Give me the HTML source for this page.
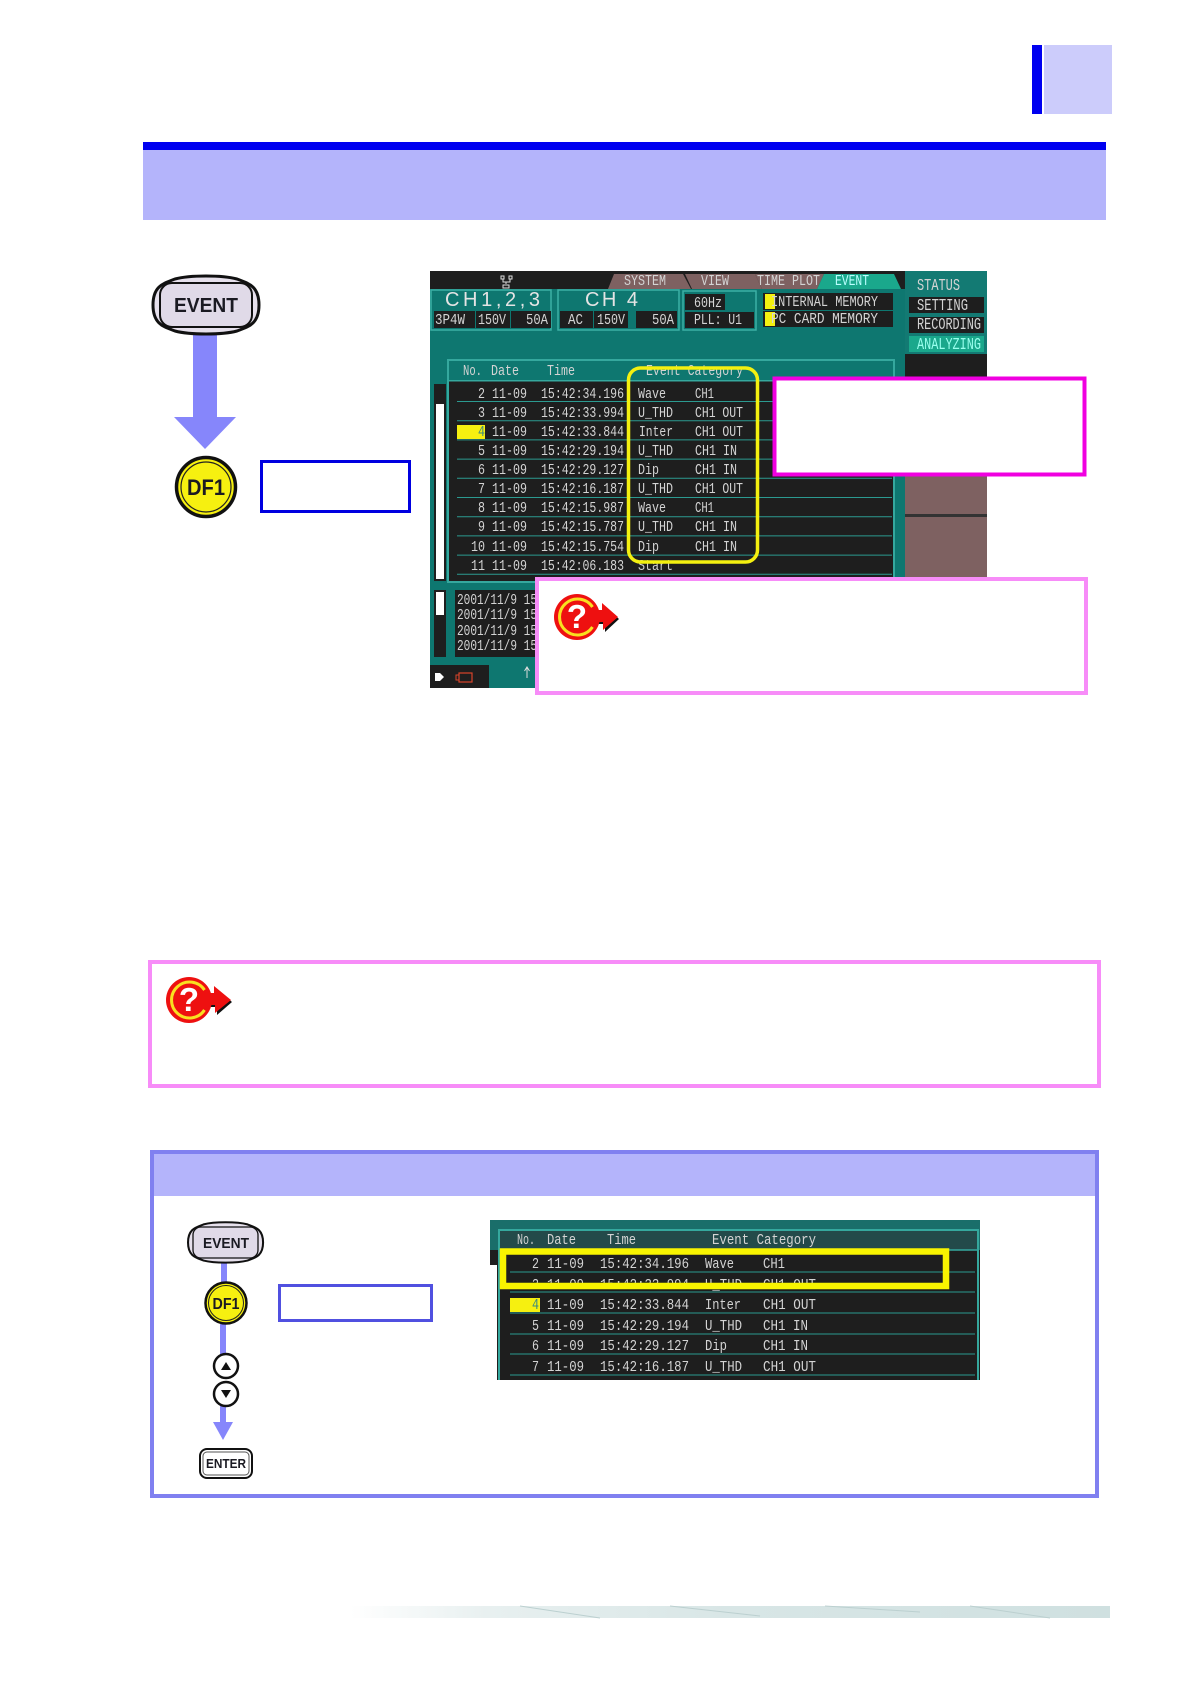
<!DOCTYPE html>
<html><head><meta charset="utf-8"><title>Event</title>
<style>
html,body{margin:0;padding:0;background:#fff}
svg{display:block}
text{font-family:"Liberation Mono",monospace}
.t{font-size:15px;fill:#d4d4d4}
.s{font-size:15px;fill:#d4d4d4}
.k{font-family:"Liberation Sans",sans-serif;font-weight:700;fill:#1a1a22}
</style></head><body>
<svg width="1190" height="1684" viewBox="0 0 1190 1684" xmlns="http://www.w3.org/2000/svg">
<rect width="1190" height="1684" fill="#fff"/>
<rect x="1032" y="45" width="10" height="69" fill="#0000f0"/>
<rect x="1044" y="45" width="68" height="69" fill="#ccccfb"/>
<rect x="143" y="142" width="963" height="8" fill="#0000f0"/>
<rect x="143" y="150" width="963" height="70" fill="#b4b4fb"/>

<!-- EVENT key + arrow -->
<rect x="193" y="333" width="24" height="85" fill="#8686fb"/>
<polygon points="174,417 236,417 205,449" fill="#8686fb"/>
<path d="M153 305C153 285 165 283 175 279C190 275 222 275 237 279C247 283 259 285 259 305C259 325 247 327 237 331C222 335 190 335 175 331C165 327 153 325 153 305Z" fill="#e6e0ec" stroke="#111" stroke-width="3"/>
<rect x="160" y="283" width="92" height="44" rx="12" fill="#e0dae8" stroke="#111" stroke-width="2"/>
<text class="k" x="206" y="312" font-size="20" text-anchor="middle" textLength="64" lengthAdjust="spacingAndGlyphs">EVENT</text>
<circle cx="206" cy="487" r="29.5" fill="#f6f010" stroke="#111" stroke-width="3.5"/>
<circle cx="206" cy="487" r="25" fill="none" stroke="#222" stroke-width="1.2"/>
<text class="k" x="206" y="495" font-size="22" text-anchor="middle" textLength="38" lengthAdjust="spacingAndGlyphs">DF1</text>
<rect x="261.5" y="461.5" width="148" height="50" fill="#fff" stroke="#0000e0" stroke-width="3"/>

<!-- Main screen -->
<rect x="430" y="271" width="557" height="417" fill="#0e7770"/>
<rect x="430" y="271" width="475" height="18" fill="#1e1e1e"/>
<rect x="905" y="271" width="82" height="83" fill="#137a73"/>
<rect x="905" y="354" width="82" height="122" fill="#1e1e1e"/>
<rect x="905" y="476" width="82" height="101" fill="#7e6161"/>
<rect x="905" y="514" width="82" height="3" fill="#333"/>
<!-- tabs -->
<polygon points="608,289 614,274 683,274 691,289" fill="#7e6161"/>
<polygon points="685,274 755,274 762,289 692,289" fill="#7e6161"/>
<polygon points="755,274 824,274 817,289 762,289" fill="#7e6161"/>
<polygon points="817,289 824,274 894,274 901,289" fill="#1aa88c"/>
<g transform="translate(0,-1)">
<text class="s" x="624" y="286" textLength="42" lengthAdjust="spacingAndGlyphs">SYSTEM</text>
<text class="s" x="701" y="286" textLength="28" lengthAdjust="spacingAndGlyphs">VIEW</text>
<text class="s" x="757" y="286" textLength="63" lengthAdjust="spacingAndGlyphs">TIME PLOT</text>
<text class="s" x="835" y="286" textLength="34" lengthAdjust="spacingAndGlyphs" style="fill:#bff">EVENT</text>
</g>
<g fill="none" stroke="#ddd" stroke-width="1"><path d="M501 276h3v3h-3zM509 276h3v3h-3zM503 279v3h7v-3M506 282v2M503 285h6v3h-6z"/></g>

<!-- status cells -->
<rect x="431" y="290" width="120" height="40" fill="none" stroke="#3cb0a6" stroke-width="1.5"/>
<rect x="558" y="290" width="121" height="40" fill="none" stroke="#3cb0a6" stroke-width="1.5"/>
<rect x="683" y="291" width="73" height="39" fill="none" stroke="#3cb0a6" stroke-width="1.5"/>
<text x="445" y="306" font-size="20" style="font-family:'Liberation Sans',sans-serif;fill:#e4e4e4" textLength="95" lengthAdjust="spacing">CH1,2,3</text>
<text x="585" y="306" font-size="20" style="font-family:'Liberation Sans',sans-serif;fill:#e4e4e4" textLength="53" lengthAdjust="spacing">CH  4</text>
<g fill="#1e1e1e">
<rect x="434" y="311" width="41" height="17"/><rect x="476" y="311" width="34" height="17"/><rect x="511" y="311" width="40" height="17"/>
<rect x="560" y="311" width="33" height="17"/><rect x="594" y="311" width="34" height="17"/><rect x="636" y="311" width="41" height="17"/>
<rect x="685" y="294" width="40" height="16"/><rect x="685" y="312" width="69" height="16"/>
<rect x="763" y="293" width="130" height="17"/><rect x="763" y="311" width="130" height="16"/>
<rect x="909" y="297" width="75" height="16"/><rect x="909" y="317" width="75" height="16"/>
</g>
<rect x="909" y="336" width="75" height="16" fill="#1aa88c"/>
<rect x="765" y="294" width="10" height="15" fill="#f4f010"/><rect x="765" y="312" width="10" height="14" fill="#f4f010"/>
<g transform="translate(0,-1)">
<text class="s" x="435" y="325" textLength="30" lengthAdjust="spacingAndGlyphs">3P4W</text>
<text class="s" x="478" y="325" textLength="28" lengthAdjust="spacingAndGlyphs">150V</text>
<text class="s" x="526" y="325" textLength="22" lengthAdjust="spacingAndGlyphs">50A</text>
<text class="s" x="568" y="325" textLength="15" lengthAdjust="spacingAndGlyphs">AC</text>
<text class="s" x="597" y="325" textLength="28" lengthAdjust="spacingAndGlyphs">150V</text>
<text class="s" x="652" y="325" textLength="22" lengthAdjust="spacingAndGlyphs">50A</text>
<text class="s" x="694" y="308" textLength="28" lengthAdjust="spacingAndGlyphs">60Hz</text>
<text class="s" x="694" y="325" textLength="48" lengthAdjust="spacingAndGlyphs">PLL: U1</text>
<text class="s" x="771" y="307" textLength="107" lengthAdjust="spacingAndGlyphs">INTERNAL  MEMORY</text>
<text class="s" x="771" y="324" textLength="107" lengthAdjust="spacingAndGlyphs">PC CARD   MEMORY</text>
<text class="s" x="917" y="291" textLength="43" lengthAdjust="spacingAndGlyphs" style="font-size:17px">STATUS</text>
<text class="s" x="917" y="311" textLength="51" lengthAdjust="spacingAndGlyphs" style="font-size:17px">SETTING</text>
<text class="s" x="917" y="330" textLength="64" lengthAdjust="spacingAndGlyphs" style="font-size:17px">RECORDING</text>
<text class="s" x="917" y="350" textLength="64" lengthAdjust="spacingAndGlyphs" style="font-size:17px;fill:#9fe">ANALYZING</text>
</g>

<!-- table -->
<rect x="448" y="360" width="446" height="222" fill="#1e1e1e" stroke="#35a89e" stroke-width="2"/>
<rect x="449" y="361" width="444" height="19" fill="#0e7770"/>
<rect x="449" y="380" width="444" height="1.5" fill="#35a89e"/>
<g transform="translate(0,-1)">
<text class="t" x="463" y="376" textLength="19" lengthAdjust="spacingAndGlyphs">No.</text>
<text class="t" x="491" y="376" textLength="28" lengthAdjust="spacingAndGlyphs">Date</text>
<text class="t" x="547" y="376" textLength="28" lengthAdjust="spacingAndGlyphs">Time</text>
<text class="t" x="646" y="376" textLength="97" lengthAdjust="spacingAndGlyphs">Event Category</text>
</g>
<g stroke="#2b9a90" stroke-width="1">
<path d="M457 401.5H892M457 420.7H892M457 439.9H892M457 459.1H892M457 478.3H892M457 497.5H892M457 516.7H892M457 535.9H892M457 555.1H892M457 574.3H892"/>
</g>
<rect x="457" y="425" width="28" height="14" fill="#f6f010"/>
<g transform="translate(0,-1)">
<text class="t" x="478" y="399" textLength="7" lengthAdjust="spacingAndGlyphs">2</text><text class="t" x="492" y="399" textLength="35" lengthAdjust="spacingAndGlyphs">11-09</text><text class="t" x="541" y="399" textLength="83" lengthAdjust="spacingAndGlyphs">15:42:34.196</text><text class="t" x="638" y="399" textLength="28" lengthAdjust="spacingAndGlyphs">Wave</text><text class="t" x="695" y="399" textLength="19" lengthAdjust="spacingAndGlyphs">CH1</text>
<text class="t" x="478" y="418" textLength="7" lengthAdjust="spacingAndGlyphs">3</text><text class="t" x="492" y="418" textLength="35" lengthAdjust="spacingAndGlyphs">11-09</text><text class="t" x="541" y="418" textLength="83" lengthAdjust="spacingAndGlyphs">15:42:33.994</text><text class="t" x="638" y="418" textLength="35" lengthAdjust="spacingAndGlyphs">U_THD</text><text class="t" x="695" y="418" textLength="48" lengthAdjust="spacingAndGlyphs">CH1 OUT</text>
<text class="t" x="478" y="437" textLength="7" lengthAdjust="spacingAndGlyphs" style="fill:#3a8a80">4</text><text class="t" x="492" y="437" textLength="35" lengthAdjust="spacingAndGlyphs">11-09</text><text class="t" x="541" y="437" textLength="83" lengthAdjust="spacingAndGlyphs">15:42:33.844</text><text class="t" x="639" y="437" textLength="34" lengthAdjust="spacingAndGlyphs">Inter</text><text class="t" x="695" y="437" textLength="48" lengthAdjust="spacingAndGlyphs">CH1 OUT</text>
<text class="t" x="478" y="456" textLength="7" lengthAdjust="spacingAndGlyphs">5</text><text class="t" x="492" y="456" textLength="35" lengthAdjust="spacingAndGlyphs">11-09</text><text class="t" x="541" y="456" textLength="83" lengthAdjust="spacingAndGlyphs">15:42:29.194</text><text class="t" x="638" y="456" textLength="35" lengthAdjust="spacingAndGlyphs">U_THD</text><text class="t" x="695" y="456" textLength="42" lengthAdjust="spacingAndGlyphs">CH1 IN</text>
<text class="t" x="478" y="475" textLength="7" lengthAdjust="spacingAndGlyphs">6</text><text class="t" x="492" y="475" textLength="35" lengthAdjust="spacingAndGlyphs">11-09</text><text class="t" x="541" y="475" textLength="83" lengthAdjust="spacingAndGlyphs">15:42:29.127</text><text class="t" x="638" y="475" textLength="21" lengthAdjust="spacingAndGlyphs">Dip</text><text class="t" x="695" y="475" textLength="42" lengthAdjust="spacingAndGlyphs">CH1 IN</text>
<text class="t" x="478" y="494" textLength="7" lengthAdjust="spacingAndGlyphs">7</text><text class="t" x="492" y="494" textLength="35" lengthAdjust="spacingAndGlyphs">11-09</text><text class="t" x="541" y="494" textLength="83" lengthAdjust="spacingAndGlyphs">15:42:16.187</text><text class="t" x="638" y="494" textLength="35" lengthAdjust="spacingAndGlyphs">U_THD</text><text class="t" x="695" y="494" textLength="48" lengthAdjust="spacingAndGlyphs">CH1 OUT</text>
<text class="t" x="478" y="513" textLength="7" lengthAdjust="spacingAndGlyphs">8</text><text class="t" x="492" y="513" textLength="35" lengthAdjust="spacingAndGlyphs">11-09</text><text class="t" x="541" y="513" textLength="83" lengthAdjust="spacingAndGlyphs">15:42:15.987</text><text class="t" x="638" y="513" textLength="28" lengthAdjust="spacingAndGlyphs">Wave</text><text class="t" x="695" y="513" textLength="19" lengthAdjust="spacingAndGlyphs">CH1</text>
<text class="t" x="478" y="532" textLength="7" lengthAdjust="spacingAndGlyphs">9</text><text class="t" x="492" y="532" textLength="35" lengthAdjust="spacingAndGlyphs">11-09</text><text class="t" x="541" y="532" textLength="83" lengthAdjust="spacingAndGlyphs">15:42:15.787</text><text class="t" x="638" y="532" textLength="35" lengthAdjust="spacingAndGlyphs">U_THD</text><text class="t" x="695" y="532" textLength="42" lengthAdjust="spacingAndGlyphs">CH1 IN</text>
<text class="t" x="471" y="552" textLength="14" lengthAdjust="spacingAndGlyphs">10</text><text class="t" x="492" y="552" textLength="35" lengthAdjust="spacingAndGlyphs">11-09</text><text class="t" x="541" y="552" textLength="83" lengthAdjust="spacingAndGlyphs">15:42:15.754</text><text class="t" x="638" y="552" textLength="21" lengthAdjust="spacingAndGlyphs">Dip</text><text class="t" x="695" y="552" textLength="42" lengthAdjust="spacingAndGlyphs">CH1 IN</text>
<text class="t" x="471" y="571" textLength="14" lengthAdjust="spacingAndGlyphs">11</text><text class="t" x="492" y="571" textLength="35" lengthAdjust="spacingAndGlyphs">11-09</text><text class="t" x="541" y="571" textLength="83" lengthAdjust="spacingAndGlyphs">15:42:06.183</text><text class="t" x="638" y="571" textLength="35" lengthAdjust="spacingAndGlyphs">Start</text>
</g>
<!-- scrollbars, log, bottom -->
<rect x="434" y="384" width="12" height="197" fill="#1e1e1e"/>
<rect x="436" y="404" width="8" height="175" fill="#fff"/>
<rect x="434" y="590" width="12" height="67" fill="#1e1e1e"/>
<rect x="436" y="592" width="8" height="23" fill="#fff"/>
<rect x="455" y="590" width="90" height="67" fill="#1e1e1e"/>
<g transform="translate(0,-1)">
<text class="t" x="457" y="605" textLength="80" lengthAdjust="spacingAndGlyphs">2001/11/9 15</text>
<text class="t" x="457" y="620" textLength="80" lengthAdjust="spacingAndGlyphs">2001/11/9 15</text>
<text class="t" x="457" y="636" textLength="80" lengthAdjust="spacingAndGlyphs">2001/11/9 15</text>
<text class="t" x="457" y="651" textLength="80" lengthAdjust="spacingAndGlyphs">2001/11/9 15</text>
</g>
<rect x="430" y="665" width="59" height="23" fill="#1e1e1e"/>
<path d="M431 677h4v-4h5l4 4-4 4h-5v-4" fill="#fff"/>
<rect x="459" y="673" width="13" height="9" fill="none" stroke="#d8442a" stroke-width="1.2"/>
<rect x="456" y="675" width="3" height="5" fill="none" stroke="#d8442a" stroke-width="1"/>
<path d="M527 678V668M524.5 671L527 667L529.5 671" fill="none" stroke="#ddd" stroke-width="1"/>

<rect x="628.5" y="368" width="129" height="194" rx="12" fill="none" stroke="#f4f010" stroke-width="3.5"/>
<rect x="774.5" y="378.5" width="310" height="96" fill="#fff" stroke="#f000e0" stroke-width="4"/>
<rect x="537" y="579" width="549" height="114" fill="#fff" stroke="#f78cf8" stroke-width="4"/>

<!-- help icon 1 -->
<g>
<path d="M590 610h12v-7l16 14-14 13v-8h-14z" fill="#111" transform="translate(1,2)"/>
<path d="M590 610h12v-7l16 14-15 13v-8h-13z" fill="#ee1010"/>
<circle cx="577" cy="617" r="23" fill="#ee1010"/>
<path d="M592.5 607A18 18 0 1 0 592.5 627" fill="none" stroke="#f8e020" stroke-width="3"/>
<text x="577" y="628" font-size="33" text-anchor="middle" style="font-family:'Liberation Sans',sans-serif;font-weight:700;fill:#fff">?</text>
</g>

<!-- note box -->
<rect x="150" y="962" width="949" height="124" fill="#fff" stroke="#f78cf8" stroke-width="4"/>
<g>
<path d="M202 993h12v-7l17 14-15 13v-8h-14z" fill="#111" transform="translate(1,2)"/>
<path d="M202 993h12v-7l17 14-16 13v-8h-13z" fill="#ee1010"/>
<circle cx="189" cy="1000" r="23" fill="#ee1010"/>
<path d="M204.5 990A18 18 0 1 0 204.5 1010" fill="none" stroke="#f8e020" stroke-width="3"/>
<text x="189" y="1011" font-size="33" text-anchor="middle" style="font-family:'Liberation Sans',sans-serif;font-weight:700;fill:#fff">?</text>
</g>

<!-- lower panel -->
<rect x="152" y="1152" width="945" height="344" fill="#fff" stroke="#8080f0" stroke-width="4"/>
<rect x="154" y="1154" width="941" height="42" fill="#b4b4fb"/>
<rect x="221" y="1262" width="6" height="22" fill="#8686fb"/>
<rect x="220" y="1324" width="6" height="32" fill="#8686fb"/>
<rect x="220" y="1405" width="6" height="18" fill="#8686fb"/>
<polygon points="213,1422 233,1422 223,1440" fill="#8686fb"/>
<path transform="translate(79.7,1030.2) scale(.708,.696)" d="M153 305C153 285 165 283 175 279C190 275 222 275 237 279C247 283 259 285 259 305C259 325 247 327 237 331C222 335 190 335 175 331C165 327 153 325 153 305Z" fill="#e6e0ec" stroke="#111" stroke-width="2.9"/>
<rect x="193" y="1227" width="65" height="31" rx="8" fill="#e0dae8" stroke="#111" stroke-width="1.3"/>
<text class="k" x="226" y="1248" font-size="15" text-anchor="middle" textLength="46" lengthAdjust="spacingAndGlyphs">EVENT</text>
<circle cx="226" cy="1303" r="20.5" fill="#f6f010" stroke="#111" stroke-width="2.5"/>
<circle cx="226" cy="1303" r="17.5" fill="none" stroke="#222" stroke-width="1"/>
<text class="k" x="226" y="1309" font-size="16" text-anchor="middle" textLength="27" lengthAdjust="spacingAndGlyphs">DF1</text>
<rect x="279.5" y="1285.5" width="152" height="35" fill="#fff" stroke="#5050e0" stroke-width="3"/>
<circle cx="226" cy="1366" r="12" fill="#fff" stroke="#111" stroke-width="2.5"/>
<polygon points="226,1362 231,1370 221,1370" fill="#111"/>
<circle cx="226" cy="1394" r="12" fill="#fff" stroke="#111" stroke-width="2.5"/>
<polygon points="226,1398 231,1390 221,1390" fill="#111"/>
<rect x="200" y="1449" width="52" height="29" rx="7" fill="#fff" stroke="#111" stroke-width="2"/>
<rect x="203" y="1452" width="46" height="23" rx="4" fill="#fff" stroke="#555" stroke-width="1"/>
<text class="k" x="226" y="1468" font-size="13" text-anchor="middle" textLength="40" lengthAdjust="spacingAndGlyphs">ENTER</text>

<!-- lower screen -->
<rect x="490" y="1220" width="490" height="30" fill="#1a6e6a"/>
<rect x="490" y="1250" width="10" height="15" fill="#1e1e1e"/>
<rect x="497" y="1250" width="483" height="130" fill="#1e1e1e"/>
<rect x="498" y="1229" width="481" height="21" fill="#234a4a"/>
<path d="M499 1380V1230H978V1380" fill="none" stroke="#35a89e" stroke-width="2"/>
<path d="M499 1250H978" stroke="#35a89e" stroke-width="1.5"/>
<path d="M510 1272H975M510 1292H975M510 1313H975M510 1334H975M510 1354H975M510 1375H975" stroke="#2b9a90" stroke-width="1" fill="none"/>
<rect x="510" y="1298" width="30" height="14" fill="#f6f010"/>
<g transform="translate(0,-2)">
<text class="t" x="517" y="1246" textLength="18" lengthAdjust="spacingAndGlyphs">No.</text>
<text class="t" x="547" y="1246" textLength="29" lengthAdjust="spacingAndGlyphs">Date</text>
<text class="t" x="607" y="1246" textLength="29" lengthAdjust="spacingAndGlyphs">Time</text>
<text class="t" x="712" y="1246" textLength="104" lengthAdjust="spacingAndGlyphs">Event Category</text>
<text class="t" x="532" y="1270" textLength="7" lengthAdjust="spacingAndGlyphs">2</text><text class="t" x="547" y="1270" textLength="37" lengthAdjust="spacingAndGlyphs">11-09</text><text class="t" x="600" y="1270" textLength="89" lengthAdjust="spacingAndGlyphs">15:42:34.196</text><text class="t" x="705" y="1270" textLength="29" lengthAdjust="spacingAndGlyphs">Wave</text><text class="t" x="763" y="1270" textLength="22" lengthAdjust="spacingAndGlyphs">CH1</text>
<text class="t" x="532" y="1291" textLength="7" lengthAdjust="spacingAndGlyphs">3</text><text class="t" x="547" y="1291" textLength="37" lengthAdjust="spacingAndGlyphs">11-09</text><text class="t" x="600" y="1291" textLength="89" lengthAdjust="spacingAndGlyphs">15:42:33.994</text><text class="t" x="705" y="1291" textLength="37" lengthAdjust="spacingAndGlyphs">U_THD</text><text class="t" x="763" y="1291" textLength="53" lengthAdjust="spacingAndGlyphs">CH1 OUT</text>
<text class="t" x="532" y="1311" textLength="7" lengthAdjust="spacingAndGlyphs" style="fill:#3a8a80">4</text><text class="t" x="547" y="1311" textLength="37" lengthAdjust="spacingAndGlyphs">11-09</text><text class="t" x="600" y="1311" textLength="89" lengthAdjust="spacingAndGlyphs">15:42:33.844</text><text class="t" x="705" y="1311" textLength="36" lengthAdjust="spacingAndGlyphs">Inter</text><text class="t" x="763" y="1311" textLength="53" lengthAdjust="spacingAndGlyphs">CH1 OUT</text>
<text class="t" x="532" y="1332" textLength="7" lengthAdjust="spacingAndGlyphs">5</text><text class="t" x="547" y="1332" textLength="37" lengthAdjust="spacingAndGlyphs">11-09</text><text class="t" x="600" y="1332" textLength="89" lengthAdjust="spacingAndGlyphs">15:42:29.194</text><text class="t" x="705" y="1332" textLength="37" lengthAdjust="spacingAndGlyphs">U_THD</text><text class="t" x="763" y="1332" textLength="45" lengthAdjust="spacingAndGlyphs">CH1 IN</text>
<text class="t" x="532" y="1352" textLength="7" lengthAdjust="spacingAndGlyphs">6</text><text class="t" x="547" y="1352" textLength="37" lengthAdjust="spacingAndGlyphs">11-09</text><text class="t" x="600" y="1352" textLength="89" lengthAdjust="spacingAndGlyphs">15:42:29.127</text><text class="t" x="705" y="1352" textLength="22" lengthAdjust="spacingAndGlyphs">Dip</text><text class="t" x="763" y="1352" textLength="45" lengthAdjust="spacingAndGlyphs">CH1 IN</text>
<text class="t" x="532" y="1373" textLength="7" lengthAdjust="spacingAndGlyphs">7</text><text class="t" x="547" y="1373" textLength="37" lengthAdjust="spacingAndGlyphs">11-09</text><text class="t" x="600" y="1373" textLength="89" lengthAdjust="spacingAndGlyphs">15:42:16.187</text><text class="t" x="705" y="1373" textLength="37" lengthAdjust="spacingAndGlyphs">U_THD</text><text class="t" x="763" y="1373" textLength="53" lengthAdjust="spacingAndGlyphs">CH1 OUT</text>
</g>
<rect x="503" y="1251.5" width="443" height="34.5" fill="none" stroke="#f8f400" stroke-width="6.5"/>

<!-- footer strip -->
<defs><linearGradient id="g" x1="0" x2="1" y1="0" y2="0"><stop offset="0" stop-color="#fff"/><stop offset=".18" stop-color="#e8f0f0"/><stop offset=".5" stop-color="#d8e6e6"/><stop offset="1" stop-color="#cfe0e0"/></linearGradient></defs>
<rect x="350" y="1606" width="760" height="12" fill="url(#g)"/>
<path d="M520 1606L600 1618M670 1606L760 1616M825 1606L920 1612M970 1606L1050 1618" stroke="#bcd0d0" stroke-width="1" fill="none"/>
</svg>
</body></html>
